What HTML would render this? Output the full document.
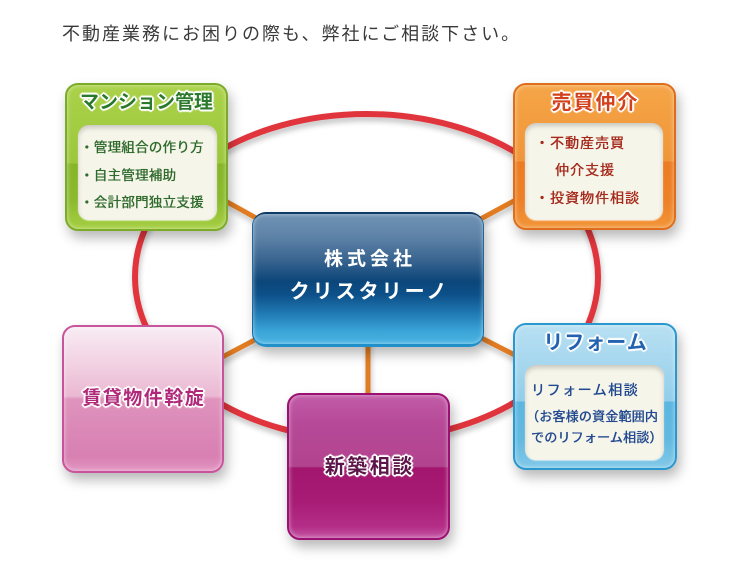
<!DOCTYPE html>
<html lang="ja">
<head>
<meta charset="utf-8">
<style>
  html,body{margin:0;padding:0;}
  body{width:740px;height:569px;position:relative;overflow:hidden;background:#fff;
    font-family:"Liberation Sans","Noto Sans CJK JP",sans-serif;}
  .abs{position:absolute;}
  .box{position:absolute;box-sizing:border-box;border-radius:13px;border:2px solid;
    box-shadow:3px 7px 12px rgba(0,0,0,0.28);}
  .box::after{content:"";position:absolute;left:0;top:0;right:0;bottom:0;border-radius:11px;
    box-shadow:inset 0 0 5px rgba(255,255,255,0.55);}
  .panel{position:absolute;box-sizing:border-box;border-radius:11px;background:#f6f5ea;
    box-shadow:inset 0 3px 5px rgba(0,0,0,0.18), 0 1px 1px rgba(255,255,255,0.6);}
  .t{position:absolute;white-space:nowrap;}
  .it{text-shadow:0 0 0.5px currentColor,0.3px 0 0 currentColor;}
  .ctr{text-align:center;}
  .ol{font-weight:bold;
    text-shadow:0 0 1px #fff,1.5px 0 0 #fff,-1.5px 0 0 #fff,0 1.5px 0 #fff,0 -1.5px 0 #fff,
      1.2px 1.2px 0 #fff,-1.2px -1.2px 0 #fff,1.2px -1.2px 0 #fff,-1.2px 1.2px 0 #fff,
      2px 0 1px #fff,-2px 0 1px #fff,0 2px 1px #fff,0 -2px 1px #fff;}
</style>
</head>
<body>

<div class="t" style="left:62px;top:22px;font-size:18px;line-height:24px;letter-spacing:2px;color:#3a3a3a;">不動産業務にお困りの際も、弊社にご相談下さい。</div>

<svg class="abs" style="left:0;top:0;" width="740" height="569" viewBox="0 0 740 569">
  <defs>
    <filter id="sh" x="-20%" y="-20%" width="140%" height="140%">
      <feGaussianBlur in="SourceAlpha" stdDeviation="3"/>
      <feOffset dx="1" dy="4" result="b"/>
      <feComponentTransfer><feFuncA type="linear" slope="0.25"/></feComponentTransfer>
      <feMerge><feMergeNode/><feMergeNode in="SourceGraphic"/></feMerge>
    </filter>
  </defs>
  <ellipse cx="366.5" cy="277" rx="231.5" ry="163" fill="none" stroke="#e0363c" stroke-width="6" filter="url(#sh)"/>
  <g stroke="#e27c22" stroke-width="5" filter="url(#sh)">
    <line x1="368" y1="280" x2="146" y2="157"/>
    <line x1="368" y1="280" x2="595" y2="157"/>
    <line x1="368" y1="280" x2="143" y2="399"/>
    <line x1="368" y1="280" x2="595" y2="396"/>
    <line x1="368" y1="280" x2="368" y2="466"/>
  </g>
</svg>

<!-- Center -->
<div class="box" style="left:252px;top:212px;width:232px;height:135px;border-radius:14px;border-color:#0e3a66 #1a6aa0 #2190c8 #1a6aa0;border-width:2px 1px 3px 1px;
  background:linear-gradient(to bottom,#6f93b4 0%,#5d82a7 18%,#3a6590 35%,#0b467a 52%,#0d5089 62%,#1f78b2 76%,#3aa4d8 90%,#4ab4e2 100%);"></div>
<div class="t ctr" style="left:252px;width:232px;top:247px;font-size:19px;line-height:26px;letter-spacing:4px;padding-left:4px;box-sizing:border-box;color:#fff;font-weight:bold;">株式会社</div>
<div class="t ctr" style="left:252px;width:232px;top:279px;font-size:20px;line-height:26px;letter-spacing:3px;padding-left:3px;box-sizing:border-box;color:#fff;font-weight:bold;">クリスタリーノ</div>

<!-- Green -->
<div class="box" style="left:65px;top:83px;width:163px;height:148px;border-color:#7cab2a;
  background:linear-gradient(to bottom,#abd24a 0%,#a2cc42 30%,#9cc73c 54%,#87b52a 55%,#8cba2e 80%,#a6cf42 100%);"></div>
<div class="t ctr ol" style="left:65px;width:163px;top:90px;font-size:19px;line-height:26px;color:#2b7a2b;">マンション管理</div>
<div class="panel" style="left:78px;top:125px;width:139px;height:95px;"></div>
<div class="t it" style="left:80px;top:138px;font-size:13.5px;line-height:20px;letter-spacing:0.25px;color:#2f6b2c;">・管理組合の作り方</div>
<div class="t it" style="left:80px;top:166px;font-size:13.5px;line-height:20px;letter-spacing:0.25px;color:#2f6b2c;">・自主管理補助</div>
<div class="t it" style="left:80px;top:193px;font-size:13.5px;line-height:20px;letter-spacing:0.25px;color:#2f6b2c;">・会計部門独立支援</div>

<!-- Orange -->
<div class="box" style="left:513px;top:83px;width:163px;height:147px;border-color:#df6e1c;
  background:linear-gradient(to bottom,#f5a648 0%,#f29c3e 30%,#f0953a 53%,#ec7c22 54%,#ed8026 80%,#f29538 100%);"></div>
<div class="t ctr ol" style="left:513px;width:163px;top:90px;font-size:20px;line-height:26px;letter-spacing:2px;padding-left:2px;box-sizing:border-box;color:#d2401c;">売買仲介</div>
<div class="panel" style="left:525px;top:123px;width:138px;height:97px;"></div>
<div class="t it" style="left:535px;top:133px;font-size:14px;line-height:20px;letter-spacing:1px;color:#a52a1c;">・不動産売買</div>
<div class="t it" style="left:555px;top:160px;font-size:14px;line-height:20px;letter-spacing:1px;color:#a52a1c;">仲介支援</div>
<div class="t it" style="left:535px;top:188px;font-size:14px;line-height:20px;letter-spacing:1px;color:#a52a1c;">・投資物件相談</div>

<!-- Reform -->
<div class="box" style="left:513px;top:323px;width:164px;height:147px;border-color:#2a98cf;
  background:linear-gradient(to bottom,#b8e0f2 0%,#a4d6ee 30%,#92cdea 53%,#5cb6df 54%,#62b9e0 80%,#82c8e8 100%);"></div>
<div class="t ctr ol" style="left:513px;width:164px;top:330px;font-size:20px;line-height:26px;letter-spacing:1px;padding-left:1px;box-sizing:border-box;color:#2262b0;">リフォーム</div>
<div class="panel" style="left:525px;top:365px;width:139px;height:95px;"></div>
<div class="t it" style="left:531px;top:380px;font-size:14px;line-height:20px;letter-spacing:1.5px;color:#234a90;">リフォーム相談</div>
<div class="t it" style="left:526px;top:407px;font-size:13px;line-height:20px;letter-spacing:0.2px;color:#234a90;">（お客様の資金範囲内</div>
<div class="t it" style="left:531px;top:428px;font-size:13px;line-height:20px;letter-spacing:0.2px;color:#234a90;">でのリフォーム相談）</div>

<!-- Pink -->
<div class="box" style="left:62px;top:325px;width:162px;height:148px;border-color:#c8559c;
  background:linear-gradient(to bottom,#f8ecf3 0%,#f2d2e3 25%,#eab8d2 48%,#df94bd 50%,#da86b6 75%,#d880b2 90%,#e296c2 100%);"></div>
<div class="t ctr ol" style="left:62px;width:162px;top:386px;font-size:19px;line-height:26px;letter-spacing:1.5px;padding-left:1.5px;box-sizing:border-box;color:#b0287a;">賃貸物件斡旋</div>

<!-- Magenta -->
<div class="box" style="left:287px;top:393px;width:163px;height:147px;border-color:#9c1072;
  background:linear-gradient(to bottom,#c25ca8 0%,#b64a98 20%,#b2438e 50%,#a2166e 51%,#a81c76 75%,#b42e88 92%,#c456a4 100%);"></div>
<div class="t ctr ol" style="left:287px;width:163px;top:454px;font-size:20px;line-height:26px;letter-spacing:2.5px;padding-left:2.5px;box-sizing:border-box;color:#5c1548;">新築相談</div>

</body>
</html>
